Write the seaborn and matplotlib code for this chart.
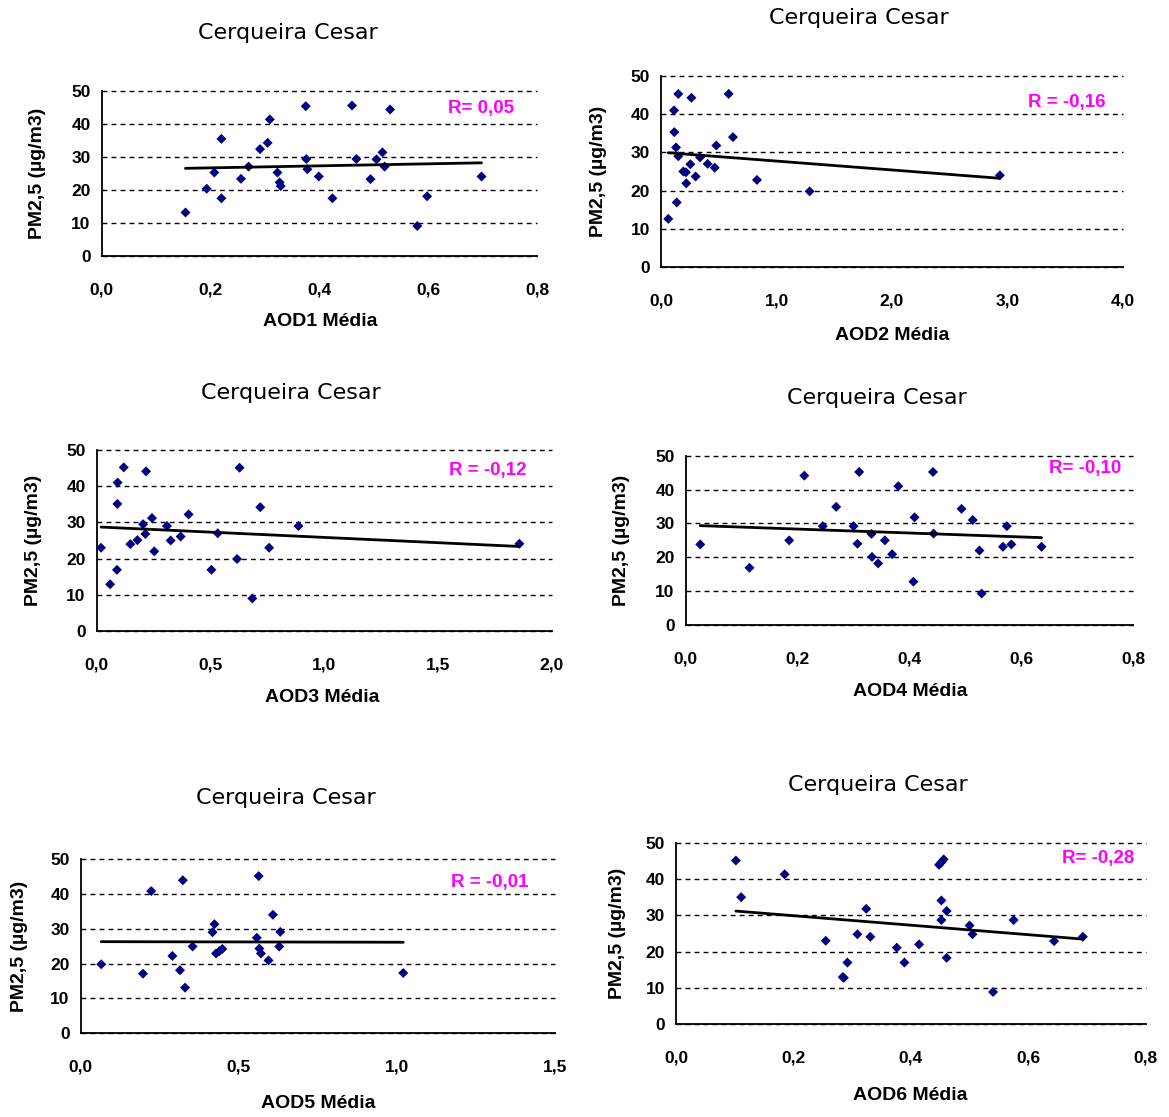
import matplotlib
matplotlib.use("Agg")
import matplotlib.pyplot as plt
import seaborn as sns

# ---- data ----
aod1 = [0.154, 0.193, 0.207, 0.220, 0.220, 0.256, 0.270, 0.291, 0.305, 0.309, 0.323, 0.327, 0.329, 0.375,
        0.376, 0.378, 0.399, 0.424, 0.460, 0.468, 0.494, 0.505, 0.516, 0.520, 0.530, 0.580, 0.598, 0.698]
pm1 = [13.1, 20.3, 25.2, 35.4, 17.4, 23.3, 27.0, 32.3, 34.2, 41.3, 25.2, 22.2, 21.1, 45.3,
       29.3, 26.2, 24.0, 17.4, 45.5, 29.3, 23.2, 29.2, 31.3, 27.0, 44.3, 9.0, 18.0, 24.0]

aod2 = [0.063, 0.113, 0.115, 0.130, 0.136, 0.150, 0.150, 0.193, 0.216, 0.219, 0.254, 0.263, 0.300, 0.338,
        0.404, 0.465, 0.479, 0.586, 0.623, 0.831, 1.287, 2.934]
pm2 = [12.6, 41.0, 35.3, 31.3, 16.9, 45.3, 29.0, 25.0, 24.8, 21.9, 26.9, 44.3, 23.7, 28.7,
       27.0, 26.0, 31.8, 45.3, 34.0, 22.8, 19.8, 24.0]

aod3 = [0.019, 0.059, 0.089, 0.091, 0.092, 0.119, 0.148, 0.179, 0.204, 0.214, 0.217, 0.243, 0.253, 0.309,
        0.325, 0.369, 0.404, 0.504, 0.532, 0.617, 0.628, 0.684, 0.719, 0.758, 0.887, 1.858]
pm3 = [23.0, 12.9, 16.9, 35.1, 41.0, 45.2, 24.0, 25.1, 29.5, 26.8, 44.1, 31.2, 22.0, 29.0,
       25.0, 26.1, 32.2, 16.9, 27.0, 19.9, 45.1, 9.0, 34.2, 23.0, 29.0, 24.1]

aod4 = [0.026, 0.114, 0.185, 0.212, 0.245, 0.269, 0.300, 0.307, 0.310, 0.332, 0.333, 0.344, 0.356, 0.369,
        0.380, 0.409, 0.407, 0.442, 0.443, 0.493, 0.513, 0.525, 0.529, 0.567, 0.574, 0.582, 0.636]
pm4 = [23.8, 16.9, 25.0, 44.1, 29.2, 34.9, 29.2, 24.0, 45.2, 26.9, 20.1, 18.2, 25.0, 20.9,
       41.0, 31.8, 12.8, 45.2, 27.0, 34.3, 31.0, 22.0, 9.3, 23.1, 29.2, 23.8, 23.1]

aod5 = [0.065, 0.197, 0.223, 0.290, 0.314, 0.323, 0.330, 0.354, 0.417, 0.423, 0.428, 0.439, 0.448, 0.557,
        0.563, 0.565, 0.570, 0.594, 0.608, 0.628, 0.631, 1.020]
pm5 = [19.8, 17.1, 40.8, 22.2, 18.1, 43.9, 13.1, 24.9, 29.0, 31.3, 22.9, 23.6, 24.2, 27.4,
       45.1, 24.3, 22.9, 20.9, 34.0, 24.9, 29.1, 17.3]

aod6 = [0.102, 0.111, 0.185, 0.255, 0.284, 0.286, 0.292, 0.309, 0.324, 0.331, 0.376, 0.389, 0.414, 0.448,
        0.452, 0.456, 0.452, 0.452, 0.461, 0.461, 0.500, 0.505, 0.540, 0.575, 0.644, 0.693]
pm6 = [45.1, 35.0, 41.3, 23.0, 13.0, 12.8, 17.0, 24.8, 31.8, 24.1, 21.1, 17.0, 22.0, 43.9,
       44.6, 45.4, 34.1, 28.7, 31.2, 18.3, 27.2, 24.8, 8.9, 28.7, 22.9, 24.1]

r_labels = ["R= 0,05", "R = -0,16", "R = -0,12", "R= -0,10", "R = -0,01", "R= -0,28"]
x_labels = ["AOD1 Média", "AOD2 Média", "AOD3 Média", "AOD4 Média", "AOD5 Média", "AOD6 Média"]
title = "Cerqueira Cesar"
y_label = "PM2,5 (µg/m3)"
y_ticks = [0, 10, 20, 30, 40, 50]
x_ticks = [
    [0.0, 0.2, 0.4, 0.6, 0.8],
    [0.0, 1.0, 2.0, 3.0, 4.0],
    [0.0, 0.5, 1.0, 1.5, 2.0],
    [0.0, 0.2, 0.4, 0.6, 0.8],
    [0.0, 0.5, 1.0, 1.5],
    [0.0, 0.2, 0.4, 0.6, 0.8],
]
xs = [aod1, aod2, aod3, aod4, aod5, aod6]
ys = [pm1, pm2, pm3, pm4, pm5, pm6]

# ---- layout (pixels) ----
W, H = 1169, 1117
# left, right, top, bottom of plot area
boxes = [
    (101.7, 537.0, 90.7, 255.7),
    (661.0, 1123.0, 76.0, 267.0),
    (96.7, 551.7, 450.0, 631.0),
    (685.7, 1133.3, 455.7, 625.0),
    (80.7, 555.0, 859.0, 1033.3),
    (676.0, 1145.7, 842.7, 1024.3),
]
title_pos = [(288, 33), (859, 18), (291, 393), (877, 398), (286, 798), (878, 785)]
xlabel_pos = [(320, 322), (892, 335), (322, 697), (910, 692), (318, 1103), (910, 1095)]
ylabel_x = [38, 598, 33, 622, 20, 617]
r_pos = [(481, 109), (1067, 102), (488, 470), (1085, 468), (490, 882), (1098, 859)]

sns.set_style("white")
plt.rcParams['font.family'] = ['Liberation Sans', 'DejaVu Sans']

fig = plt.figure(figsize=(W / 100, H / 100), dpi=100)
fig.patch.set_facecolor("white")


def fx(px):
    return px / W


def fy(py):
    return 1 - py / H


for i in range(6):
    l, r, t, b = boxes[i]
    ax = fig.add_axes([fx(l), fy(b), (r - l) / W, (b - t) / H])

    # points + linear trend line
    sns.regplot(x=xs[i], y=ys[i], ax=ax, ci=None, truncate=True, marker="D",
                scatter_kws=dict(s=26, color="#000080", edgecolor="none", alpha=1),
                line_kws=dict(color="black", linewidth=2))

    ax.set_xlim(x_ticks[i][0], x_ticks[i][-1])
    ax.set_ylim(0, 50)
    ax.set_xticks(x_ticks[i])
    ax.set_xticklabels([f"{v:.1f}".replace(".", ",") for v in x_ticks[i]])
    ax.set_yticks(y_ticks)
    ax.set_yticklabels([str(v) for v in y_ticks])
    ax.tick_params(axis="both", direction="out", length=5, width=1.2, color="black",
                   labelsize=12.5, labelcolor="black")
    ax.tick_params(axis="x", pad=14)
    ax.tick_params(axis="y", pad=3)
    for lab in ax.get_xticklabels() + ax.get_yticklabels():
        lab.set_fontweight("bold")

    ax.yaxis.grid(True, color="black", linestyle=(0, (3.5, 3)), linewidth=1)
    for gl in ax.get_ygridlines():
        gl.set_clip_on(False)
    ax.xaxis.grid(False)
    sns.despine(ax=ax)
    for side in ["left", "bottom"]:
        ax.spines[side].set_color("black")
        ax.spines[side].set_linewidth(1.3)
    ax.set_xlabel("")
    ax.set_ylabel("")
    ax.set_facecolor("white")

    tx, ty = title_pos[i]
    fig.text(fx(tx), fy(ty), title, ha="center", va="center", fontsize=16,
             family="DejaVu Sans", color="black")
    lx, ly = xlabel_pos[i]
    fig.text(fx(lx), fy(ly), x_labels[i], ha="center", va="center", fontsize=14,
             fontweight="bold", color="black")
    fig.text(fx(ylabel_x[i]), fy((t + b) / 2), y_label, ha="center", va="center",
             rotation=90, fontsize=14, fontweight="bold", color="black")
    rx, ry = r_pos[i]
    fig.text(fx(rx), fy(ry), r_labels[i], ha="center", va="center", fontsize=13.5,
             fontweight="bold", color="#FF00FF")

fig.savefig("out.png", dpi=100, facecolor="white")
